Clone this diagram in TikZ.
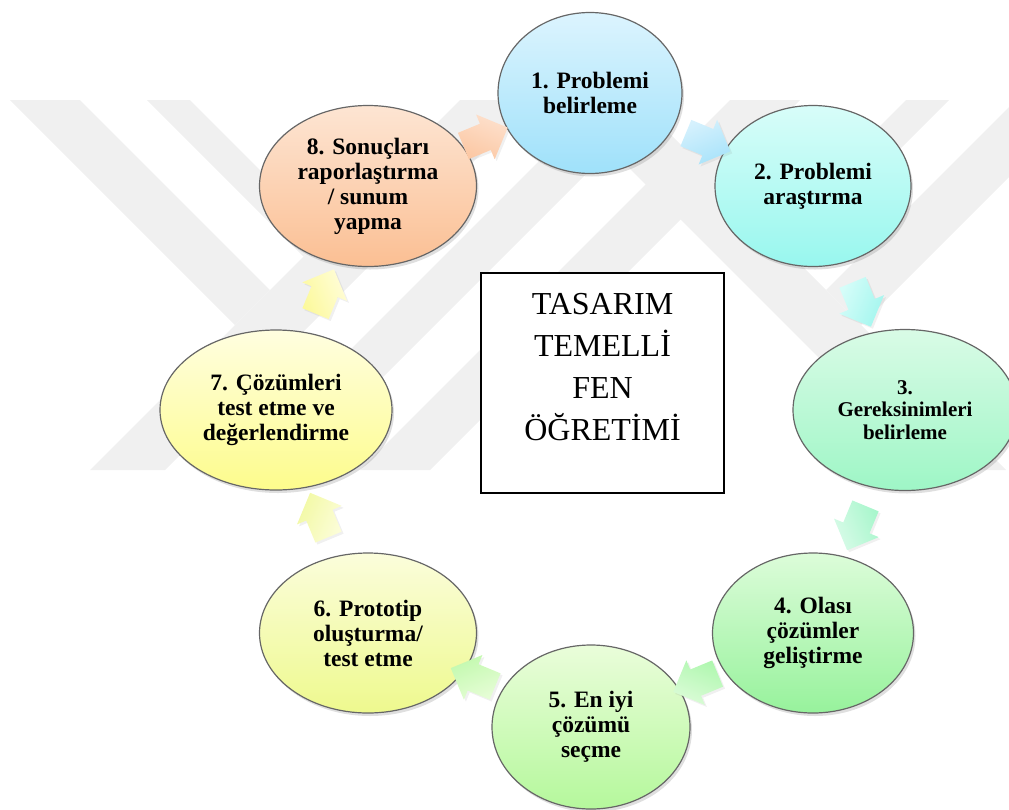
\documentclass[tikz,border=0pt]{standalone}
\usepackage{fontspec}
\setmainfont{Liberation Serif}
\usetikzlibrary{shapes.geometric,shapes.arrows,shadows,calc}

% Adim renkleri (ust / alt)
\definecolor{bir1}{HTML}{DCF4FE}   \definecolor{bir2}{HTML}{9FE1FA}
\definecolor{iki1}{HTML}{D8FDF9}   \definecolor{iki2}{HTML}{98F7EE}
\definecolor{uc1}{HTML}{D9FBE6}    \definecolor{uc2}{HTML}{9EF6C6}
\definecolor{dort1}{HTML}{DCFCD9}  \definecolor{dort2}{HTML}{97F29C}
\definecolor{bes1}{HTML}{EAFDDA}   \definecolor{bes2}{HTML}{B5F89C}
\definecolor{alti1}{HTML}{FBFDDB}  \definecolor{alti2}{HTML}{EEF98E}
\definecolor{yedi1}{HTML}{FFFEE0}  \definecolor{yedi2}{HTML}{FDFC8C}
\definecolor{sekiz1}{HTML}{FDE5D3} \definecolor{sekiz2}{HTML}{FBBF93}
% Ok renkleri
\definecolor{oka1}{HTML}{FDE0CC} \definecolor{oka2}{HTML}{FCC8A4}
\definecolor{okb1}{HTML}{D6F1FD} \definecolor{okb2}{HTML}{A8E3FA}
\definecolor{okc1}{HTML}{D6FDF9} \definecolor{okc2}{HTML}{A3F6EE}
\definecolor{okd1}{HTML}{D8FBE8} \definecolor{okd2}{HTML}{A8F6CC}
\definecolor{oke1}{HTML}{DCFCD8} \definecolor{oke2}{HTML}{B0F7B0}
\definecolor{okf1}{HTML}{E6FDD6} \definecolor{okf2}{HTML}{C2F9AE}
\definecolor{okg1}{HTML}{FCFDD8} \definecolor{okg2}{HTML}{F2F9A4}
\definecolor{okh1}{HTML}{FFFDD8} \definecolor{okh2}{HTML}{FCF99C}
\definecolor{filigran}{HTML}{F0F0F0}

\begin{document}
\begin{tikzpicture}[x=1pt,y=-1pt,
    adim/.style={ellipse, draw=black!60, line width=1.2pt, inner sep=0pt, align=center,
      font=\bfseries\fontsize{23.5}{25}\selectfont,
      drop shadow={shadow xshift=2pt, shadow yshift=-3pt, opacity=0.25}},
    ok/.style={single arrow, minimum height=48pt, single arrow head extend=10pt,
      inner xsep=0pt, inner ysep=14pt,
      drop shadow={shadow xshift=2pt, shadow yshift=-2pt, opacity=0.12}}]
    \useasboundingbox (0,0) rectangle (1009,809);

    % Filigran
    \begin{scope}
      \clip (0,100) rectangle (1009,470);
      \fill[filigran] (10,100) -- (80,100) -- (270,290) -- (235,325) -- cycle;
      \fill[filigran] (147,100) -- (190,100) -- (325,235) -- (303.5,256.5) -- cycle;
      \fill[filigran] (90,470) -- (165,470) -- (535,100) -- (460,100) -- cycle;
      \fill[filigran] (230,470) -- (290,470) -- (660,100) -- (600,100) -- cycle;
      \fill[filigran] (360,470) -- (430,470) -- (800,100) -- (730,100) -- cycle;
      \fill[filigran] (561,100) -- (636,100) -- (1006,470) -- (931,470) -- cycle;
      \fill[filigran] (906,100) -- (949,100) -- (792.5,256.5) -- (771,235) -- cycle;
      \fill[filigran] (1016,100) -- (1086,100) -- (861,325) -- (826,290) -- cycle;
    \end{scope}

    % Adimlar
    \node[adim, minimum width=184pt, minimum height=161pt, top color=bir1, bottom color=bir2] (belirleme) at (590,93) {1. Problemi\\belirleme};
    \node[adim, minimum width=196pt, minimum height=161pt, top color=iki1, bottom color=iki2] (arastirma) at (813,186) {2. Problemi\\araştırma};
    \node[adim, minimum width=224pt, minimum height=161pt, top color=uc1, bottom color=uc2,
      font=\bfseries\fontsize{21}{22.5}\selectfont] (gereksinim) at (905,410) {3.\\Gereksinimleri\\belirleme};
    \node[adim, minimum width=201pt, minimum height=160pt, top color=dort1, bottom color=dort2] (cozumler) at (813,633) {4. Olası\\çözümler\\geliştirme};
    \node[adim, minimum width=198pt, minimum height=164pt, top color=bes1, bottom color=bes2] (secme) at (591,727) {5. En iyi\\çözümü\\seçme};
    \node[adim, minimum width=217pt, minimum height=160pt, top color=alti1, bottom color=alti2] (prototip) at (368,633) {6. Prototip\\oluşturma/\\test etme};
    \node[adim, minimum width=232pt, minimum height=160pt, top color=yedi1, bottom color=yedi2] (test) at (276,410) {7. Çözümleri\\test etme ve\\değerlendirme};
    \node[adim, minimum width=217pt, minimum height=161pt, top color=sekiz1, bottom color=sekiz2] (rapor) at (368,186) {8. Sonuçları\\raporlaştırma\\/ sunum\\yapma};

    % Merkez
    \node[draw, fill=white, line width=1.8pt, minimum width=243pt, minimum height=220pt] (merkez) at (602.5,383) {};
    \node[align=center, font=\fontsize{32}{42}\selectfont] (baslik) at ($(merkez)+(0,-16)$) {TASARIM\\TEMELLİ\\FEN\\ÖĞRETİMİ};

    % Oklar
    \foreach \a/\b/\r/\l/\renk in {rapor/belirleme/22.5/34/oka, belirleme/arastirma/-22.5/34/okb,
        arastirma/gereksinim/-67.5/44/okc, gereksinim/cozumler/-112.5/44/okd,
        cozumler/secme/-157.5/34/oke, secme/prototip/157.5/34/okf,
        prototip/test/112.5/44/okg, test/rapor/67.5/44/okh}
      \node[ok, minimum width=\l pt, rotate=\r, top color=\renk1, bottom color=\renk2,
        shading angle={-(\r)}] at ($(\a)!0.5!(\b)$) {};

\end{tikzpicture}
\end{document}
